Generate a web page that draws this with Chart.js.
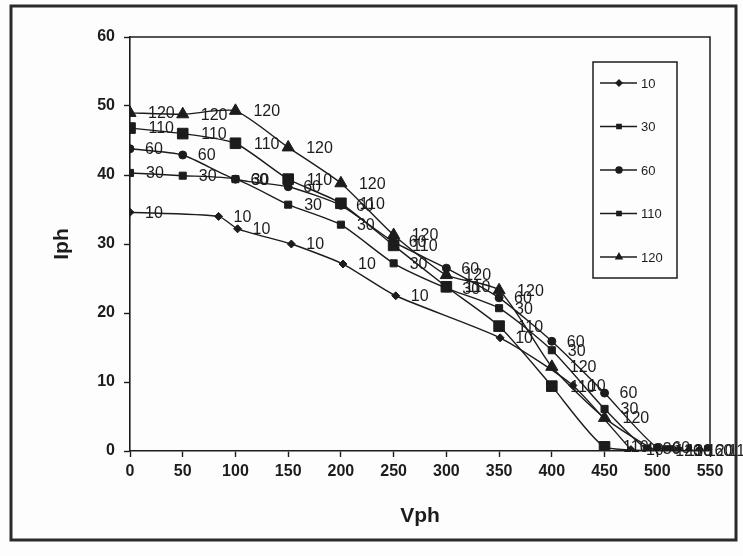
<!DOCTYPE html>
<html>
<head>
<meta charset="utf-8">
<script src="https://cdn.jsdelivr.net/npm/chart.js@4.4.1/dist/chart.umd.min.js"></script>
<style>
    html, body { margin: 0; padding: 0; background: #fdfdfd; }
    #wrap { width: 743px; height: 556px; }
</style>
</head>
<body>
<div id="wrap"><canvas id="lineChart"></canvas></div>
<script>
// Iph against Vph, one series per legend entry
const seriesNames = ['10', '30', '60', '110', '120'];

const vph10 = [0, 84, 102, 153, 202, 252, 351, 420, 475];
const iph10 = [34.6, 34, 32.2, 30, 27.1, 22.5, 16.4, 9.5, 0.2];

const vph30 = [0, 50, 100, 150, 200, 250, 300, 350, 400, 450, 490, 520];
const iph30 = [40.3, 39.9, 39.4, 35.7, 32.8, 27.2, 23.6, 20.7, 14.6, 6.1, 0.3, 0];

const vph60 = [0, 50, 100, 150, 200, 250, 300, 350, 400, 450, 500, 540];
const iph60 = [43.8, 42.9, 39.4, 38.3, 35.6, 30.3, 26.5, 22.2, 15.9, 8.4, 0.5, 0];

const vph110 = [0, 50, 100, 150, 200, 250, 300, 350, 400, 450, 510, 550];
const iph110 = [46.8, 46, 44.6, 39.4, 35.9, 29.8, 23.8, 18.1, 9.4, 0.6, 0, 0];

const vph120 = [0, 50, 100, 150, 200, 250, 300, 350, 400, 450, 500, 530];
const iph120 = [49, 48.8, 49.3, 44, 38.8, 31.3, 25.5, 23.3, 12.2, 4.8, 0, 0];

const xTicks = [0, 50, 100, 150, 200, 250, 300, 350, 400, 450, 500, 550];
const yTicks = [0, 10, 20, 30, 40, 50, 60];

const ink = '#1c1c1c';
const markers = [
    { style: 'rectRot', radius: 4 },
    { style: 'rect', radius: 5 },
    { style: 'circle', radius: 4 },
    { style: 'rect', radius: 7.5 },
    { style: 'triangle', radius: 7 }
];

function pairs(xs, ys) {
    return xs.map((x, i) => ({ x: x, y: ys[i] }));
}

const allData = [
    pairs(vph10, iph10),
    pairs(vph30, iph30),
    pairs(vph60, iph60),
    pairs(vph110, iph110),
    pairs(vph120, iph120)
];

const datasets = seriesNames.map((name, i) => ({
    label: name,
    data: allData[i],
    borderColor: ink,
    backgroundColor: ink,
    borderWidth: 1.4,
    pointStyle: markers[i].style,
    pointRadius: markers[i].radius,
    pointBorderWidth: 1,
    tension: 0.2
}));

// page frame and plot border
const framePlugin = {
    id: 'frame',
    beforeDraw(chart) {
        const ctx = chart.ctx;
        ctx.save();
        ctx.fillStyle = '#fdfdfd';
        ctx.fillRect(0, 0, chart.width, chart.height);
        ctx.strokeStyle = '#2a2a2a';
        ctx.lineWidth = 3;
        ctx.strokeRect(11, 6, 725, 534);
        ctx.restore();
    },
    afterDraw(chart) {
        const a = chart.chartArea;
        const ctx = chart.ctx;
        ctx.save();
        ctx.strokeStyle = ink;
        ctx.lineWidth = 1.5;
        ctx.beginPath();
        ctx.moveTo(a.left, a.top);
        ctx.lineTo(a.right, a.top);
        ctx.lineTo(a.right, a.bottom);
        ctx.stroke();
        ctx.restore();
    }
};

// series name written to the right of every point
const pointLabels = {
    id: 'pointLabels',
    afterDatasetsDraw(chart) {
        const ctx = chart.ctx;
        ctx.save();
        ctx.font = '16px "Liberation Sans", Arial, sans-serif';
        ctx.fillStyle = ink;
        ctx.textAlign = 'left';
        ctx.textBaseline = 'middle';
        chart.data.datasets.forEach((ds, i) => {
            const meta = chart.getDatasetMeta(i);
            meta.data.forEach(pt => {
                ctx.fillText(ds.label, pt.x + markers[i].radius + 11, pt.y + 1);
            });
        });
        ctx.restore();
    }
};

// boxed legend inside the plot, top right
const boxLegend = {
    id: 'boxLegend',
    afterDraw(chart) {
        const ctx = chart.ctx;
        const a = chart.chartArea;
        const left = a.right - 117;
        const top = a.top + 25;
        ctx.save();
        ctx.strokeStyle = ink;
        ctx.lineWidth = 1.5;
        ctx.strokeRect(left, top, 84, 216);
        ctx.font = '13px "Liberation Sans", Arial, sans-serif';
        ctx.fillStyle = ink;
        ctx.textBaseline = 'middle';
        chart.data.datasets.forEach((ds, i) => {
            const y = top + 21 + i * 43.5;
            ctx.lineWidth = 1.4;
            ctx.beginPath();
            ctx.moveTo(left + 7, y);
            ctx.lineTo(left + 44, y);
            ctx.stroke();
            Chart.helpers.drawPoint(ctx, {
                pointStyle: markers[i].style,
                radius: i === 4 ? 3.5 : 3,
                borderWidth: 1
            }, left + 26, y);
            ctx.fill();
            ctx.fillText(ds.label, left + 48, y + 1);
        });
        ctx.restore();
    }
};

const ctx = document.getElementById('lineChart').getContext('2d');
const lineChart = new Chart(ctx, {
    type: 'line',
    data: { datasets: datasets },
    options: {
        responsive: true,
        maintainAspectRatio: false,
        animation: false,
        layout: { padding: { top: 37, right: 33, left: 0, bottom: 0 } },
        plugins: {
            legend: { display: false },
            tooltip: { enabled: false }
        },
        scales: {
            x: {
                type: 'linear',
                min: xTicks[0],
                max: xTicks[xTicks.length - 1],
                afterBuildTicks(scale) { scale.ticks = xTicks.map(v => ({ value: v })); },
                afterFit(scale) { scale.height = 105; },
                ticks: {
                    color: ink,
                    padding: 5,
                    font: { family: '"Liberation Sans", Arial, sans-serif', size: 16, weight: 'bold' }
                },
                grid: { drawOnChartArea: false, tickLength: 6, tickColor: ink, tickWidth: 1.4 },
                border: { color: ink, width: 1.6 },
                title: {
                    display: true,
                    text: 'Vph',
                    color: ink,
                    padding: { top: 0, bottom: 27 },
                    font: { family: '"Liberation Sans", Arial, sans-serif', size: 21, weight: 'bold' }
                }
            },
            y: {
                min: yTicks[0],
                max: yTicks[yTicks.length - 1],
                afterBuildTicks(scale) { scale.ticks = yTicks.map(v => ({ value: v })); },
                afterFit(scale) { scale.width = 130; },
                ticks: {
                    color: ink,
                    padding: 9,
                    font: { family: '"Liberation Sans", Arial, sans-serif', size: 16, weight: 'bold' }
                },
                grid: { drawOnChartArea: false, tickLength: 6, tickColor: ink, tickWidth: 1.4 },
                border: { color: ink, width: 1.6 },
                title: {
                    display: true,
                    text: 'Iph',
                    color: ink,
                    padding: { top: 50, bottom: 0 },
                    font: { family: '"Liberation Sans", Arial, sans-serif', size: 21, weight: 'bold' }
                }
            }
        }
    },
    plugins: [framePlugin, pointLabels, boxLegend]
});
</script>
</body>
</html>
